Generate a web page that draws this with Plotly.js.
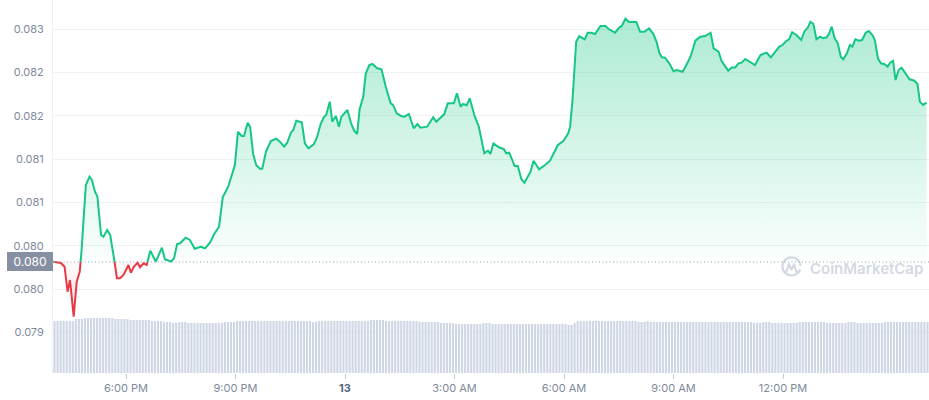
<!DOCTYPE html>
<html><head><meta charset="utf-8">
<script src="https://cdn.plot.ly/plotly-3.0.1.min.js"></script>
<style>html,body{margin:0;padding:0;background:#fff}#chart{width:929px;height:400px}</style>
</head><body><div id="chart"></div>
<script>
// ---- data ----
const startUTC = Date.UTC(2023, 5, 12, 16, 0);   // 12th, 4:00 PM
const windowMinutes = 1440;
const referencePrice = 0.080313;
const referenceLabel = '0.080';

const priceMinutes = [
  0,13,19,24,28,34,39,44,47,54,
  60,64,69,73,79,83,89,94,102,105,
  110,116,124,128,133,139,143,149,154,160,
  169,179,184,194,199,204,209,218,225,233,
  243,250,258,265,273,279,288,294,299,304,
  310,314,320,324,329,334,340,344,350,358,
  367,373,380,385,391,395,400,409,414,420,
  429,434,440,445,449,455,459,465,470,474,
  481,484,490,495,500,504,510,514,520,525,
  533,540,547,555,559,565,572,578,585,593,
  599,604,615,625,630,638,643,649,659,664,
  670,674,680,685,693,700,709,715,719,724,
  733,741,745,750,759,764,770,775,785,790,
  799,809,817,830,839,847,850,854,860,865,
  874,879,885,891,900,908,914,924,931,935,
  941,947,959,965,972,980,987,992,997,1001,
  1006,1013,1020,1025,1035,1042,1048,1056,1064,1072,
  1081,1086,1094,1099,1105,1110,1116,1121,1127,1132,
  1138,1145,1154,1163,1173,1180,1187,1194,1199,1206,
  1210,1215,1222,1230,1235,1241,1245,1250,1255,1261,
  1266,1272,1276,1280,1285,1290,1295,1299,1305,1310,
  1314,1319,1325,1330,1336,1341,1347,1351,1356,1361,
  1367,1372,1376,1381,1385,1390,1395,1401,1408,1416,
  1421,1425,1430,1436
];
const priceValues = [
  0.080316,0.080301,0.080258,0.079970,0.080105,0.079681,0.080085,0.080201,0.080451,0.081202,
  0.081298,0.081260,0.081124,0.081067,0.080625,0.080605,0.080682,0.080625,0.080278,0.080125,
  0.080125,0.080163,0.080278,0.080189,0.080258,0.080307,0.080252,0.080298,0.080278,0.080443,
  0.080316,0.080478,0.080344,0.080318,0.080355,0.080521,0.080529,0.080593,0.080567,0.080466,
  0.080489,0.080471,0.080536,0.080636,0.080720,0.081060,0.081182,0.081317,0.081433,0.081817,
  0.081768,0.081768,0.081921,0.081875,0.081560,0.081433,0.081390,0.081390,0.081586,0.081710,
  0.081736,0.081702,0.081644,0.081690,0.081806,0.081837,0.081944,0.081926,0.081683,0.081626,
  0.081675,0.081753,0.081906,0.081984,0.082010,0.082164,0.081933,0.081999,0.081875,0.081991,
  0.082037,0.082068,0.081914,0.081829,0.081791,0.082076,0.082221,0.082484,0.082587,0.082599,
  0.082549,0.082538,0.082337,0.082145,0.082126,0.082030,0.081999,0.081991,0.082022,0.081857,
  0.081906,0.081863,0.081875,0.081984,0.081933,0.081991,0.082018,0.082145,0.082145,0.082261,
  0.082106,0.082137,0.082122,0.082203,0.081999,0.081875,0.081568,0.081598,0.081560,0.081683,
  0.081637,0.081618,0.081568,0.081575,0.081421,0.081421,0.081268,0.081228,0.081355,0.081482,
  0.081383,0.081433,0.081482,0.081664,0.081710,0.081799,0.081875,0.082183,0.082857,0.082922,
  0.082884,0.082960,0.082960,0.082945,0.083038,0.083038,0.083000,0.082960,0.083023,0.083038,
  0.083122,0.083084,0.083084,0.082972,0.082972,0.083011,0.082945,0.082857,0.082723,0.082676,
  0.082672,0.082607,0.082515,0.082530,0.082510,0.082599,0.082683,0.082868,0.082914,0.082922,
  0.082960,0.082780,0.082741,0.082634,0.082579,0.082522,0.082561,0.082557,0.082607,0.082614,
  0.082657,0.082626,0.082587,0.082703,0.082730,0.082676,0.082741,0.082801,0.082818,0.082868,
  0.082884,0.082965,0.082934,0.082876,0.082972,0.083023,0.083087,0.083061,0.082884,0.082914,
  0.082896,0.082907,0.082954,0.083030,0.082896,0.082838,0.082683,0.082653,0.082723,0.082818,
  0.082799,0.082884,0.082868,0.082876,0.082960,0.082980,0.082934,0.082876,0.082665,0.082607,
  0.082596,0.082568,0.082614,0.082634,0.082414,0.082530,0.082557,0.082492,0.082422,0.082406,
  0.082368,0.082164,0.082126,0.082152
];

const volumeStepMinutes = 5;
const volumeValues = [
  52,52,52,52,52,52,52,
  54,54,54,
  55,55,55,55,55,55,55,55,55,55,
  54,54,54,54,54,
  53,53,53,53,53,53,53,
  52,52,52,52,
  51,51,51,
  50,50,
  51,51,51,
  50,50,50,50,50,50,50,50,50,50,50,50,
  51,51,51,51,
  52,52,52,52,52,52,52,52,52,52,52,52,52,52,52,52,52,52,52,52,52,52,52,52,52,
  51,51,
  52,52,52,52,52,52,52,52,52,52,52,52,52,52,52,52,52,
  53,53,53,53,53,
  52,52,52,52,52,52,52,52,52,52,52,
  51,51,51,51,51,51,51,
  50,50,50,50,50,
  49,49,49,49,49,49,49,49,49,
  50,50,50,
  49,49,49,49,49,49,49,49,49,49,49,49,49,49,49,49,49,49,49,49,49,49,49,49,49,
  48,48,
  50,
  52,52,52,52,52,52,52,52,52,52,52,52,52,52,52,52,52,52,52,52,
  51,51,51,
  52,
  51,51,51,51,51,51,51,51,51,51,51,51,51,51,51,51,51,51,51,51,51,51,51,51,51,51,51,51,51,51,51,51,51,51,
  50,50,50,
  51,51,51,
  50,50,50,50,50,50,50,50,50,
  51,51,51,51,51,51,51,51,51,
  50,50,50,50,50,50,50,
  51,51,51,
  50,50,50,50,50,50,50,50,50,
  51,51,51,51,51,51,51,51,51,51,51,51,51,51,51
];

const xTickMinutes = [120, 300, 480, 660, 840, 1020, 1200];
const xTickLabels = ['6:00 PM', '9:00 PM', '<span style="color:#58667e"><b>13</b></span>', '3:00 AM', '6:00 AM', '9:00 AM', '12:00 PM'];
const yTickValues = [0.0795, 0.0800, 0.0805, 0.0810, 0.0815, 0.0820, 0.0825, 0.0830];
const yTickLabels = ['0.079', '0.080', '0.080', '0.081', '0.081', '0.082', '0.082', '0.083'];

// ---- build traces ----
const GREEN = '#16c784', RED = '#ea3943';
const T = m => startUTC + m * 60000;

const aug = [];
for (let i = 0; i < priceValues.length; i++) {
  const m = priceMinutes[i], v = priceValues[i];
  aug.push([m, v]);
  if (i < priceValues.length - 1) {
    const m2 = priceMinutes[i + 1], v2 = priceValues[i + 1];
    if ((v - referencePrice) * (v2 - referencePrice) < 0) {
      const f = (referencePrice - v) / (v2 - v);
      aug.push([m + f * (m2 - m), referencePrice]);
    }
  }
}
const ax = aug.map(p => T(p[0]));
const base = aug.map(() => referencePrice);
const upper = aug.map(p => Math.max(p[1], referencePrice));
const lower = aug.map(p => Math.min(p[1], referencePrice));
const greenLine = aug.map(p => p[1] >= referencePrice ? p[1] : null);
const redLine = aug.map(p => p[1] <= referencePrice ? p[1] : null);
const minPrice = Math.min(...priceValues), maxPrice = Math.max(...priceValues);

const volX = volumeValues.map((_, i) => T(i * volumeStepMinutes + volumeStepMinutes / 2));

const traces = [
  {type: 'bar', x: volX, y: volumeValues, yaxis: 'y', marker: {color: '#cfd6e4', line: {width: 0}}, hoverinfo: 'skip'},
  {type: 'scatter', mode: 'lines', x: ax, y: base, yaxis: 'y2', line: {width: 0}, hoverinfo: 'skip'},
  {type: 'scatter', mode: 'lines', x: ax, y: upper, yaxis: 'y2', line: {width: 0}, fill: 'tonexty',
   fillgradient: {type: 'vertical', start: referencePrice, stop: 0.08334,
     colorscale: [[0, 'rgba(22,199,132,0.02)'], [1, 'rgba(22,199,132,0.38)']]}, hoverinfo: 'skip'},
  {type: 'scatter', mode: 'lines', x: ax, y: base, yaxis: 'y2', line: {width: 0}, hoverinfo: 'skip'},
  {type: 'scatter', mode: 'lines', x: ax, y: lower, yaxis: 'y2', line: {width: 0}, fill: 'tonexty',
   fillgradient: {type: 'vertical', start: minPrice, stop: referencePrice,
     colorscale: [[0, 'rgba(234,57,67,0.14)'], [1, 'rgba(234,57,67,0.02)']]}, hoverinfo: 'skip'},
  {type: 'scatter', mode: 'lines', x: ax, y: greenLine, yaxis: 'y2', connectgaps: false,
   line: {color: GREEN, width: 2}, hoverinfo: 'skip'},
  {type: 'scatter', mode: 'lines', x: ax, y: redLine, yaxis: 'y2', connectgaps: false,
   line: {color: RED, width: 2}, hoverinfo: 'skip'}
];

const logoSvg = "<svg xmlns='http://www.w3.org/2000/svg' viewBox='0 0 24 24'>" +
  "<path d='M20.6 14.6 A9.4 9.4 0 1 1 21.2 9.2' fill='none' stroke='#d3d9e3' stroke-width='2.3' stroke-linecap='round'/>" +
  "<path d='M6.6 16.2 L9.3 8.6 L12 14.2 L14.7 8.6 L16.6 15.4 Q17.6 17.6 20.4 15.2' fill='none' stroke='#d3d9e3' stroke-width='2.3' stroke-linecap='round' stroke-linejoin='round'/></svg>";

const layout = {
  width: 929, height: 400,
  margin: {l: 53, r: 0, t: 0, b: 27},
  paper_bgcolor: '#ffffff', plot_bgcolor: '#ffffff',
  showlegend: false, hovermode: false, bargap: 0.3,
  font: {family: 'Inter, "Noto Sans", sans-serif', color: '#808a9d', size: 11},
  xaxis: {
    type: 'date', range: [T(0), T(windowMinutes)],
    tickmode: 'array', tickvals: xTickMinutes.map(T), ticktext: xTickLabels,
    ticks: 'outside', ticklen: 5, tickcolor: '#c2c8d5', showgrid: false, zeroline: false, showline: false,
    tickfont: {size: 11, color: '#808a9d'}, fixedrange: true
  },
  yaxis: {range: [0, 373], visible: false, fixedrange: true},
  yaxis2: {
    overlaying: 'y', side: 'left', range: [0.079031, 0.083338],
    tickmode: 'array', tickvals: yTickValues, ticktext: yTickLabels,
    showgrid: true, gridcolor: '#eff2f5', gridwidth: 1, zeroline: false,
    showline: true, linecolor: '#eff2f5', linewidth: 1, ticks: '', ticklabelstandoff: 6,
    tickfont: {size: 11, color: '#808a9d'}, fixedrange: true
  },
  shapes: [{
    type: 'line', xref: 'paper', x0: 0, x1: 1, yref: 'y2', y0: referencePrice, y1: referencePrice,
    line: {color: '#9aa1b2', width: 1, dash: '1px,2.5px'}
  }],
  annotations: [
    {xref: 'paper', x: 0, xanchor: 'right', yref: 'y2', y: referencePrice, yanchor: 'middle',
     text: referenceLabel, showarrow: false, bgcolor: '#878fa3', borderwidth: 0, borderpad: 2,
     width: 42, height: 15, font: {color: '#ffffff', size: 12}},
    {xref: 'paper', x: 0.862, xanchor: 'left', yref: 'paper', y: 0.2815, yanchor: 'middle',
     text: 'CoinMarketCap', showarrow: false, font: {size: 15, color: '#d3d9e3', weight: 600}}
  ],
  images: [{
    source: 'data:image/svg+xml;charset=utf-8,' + encodeURIComponent(logoSvg),
    xref: 'paper', yref: 'paper', x: 0.8299, y: 0.3137, sizex: 0.0263, sizey: 0.0617,
    xanchor: 'left', yanchor: 'top', sizing: 'contain', layer: 'above'
  }]
};

Plotly.newPlot('chart', traces, layout, {displayModeBar: false, staticPlot: true});
</script></body></html>
